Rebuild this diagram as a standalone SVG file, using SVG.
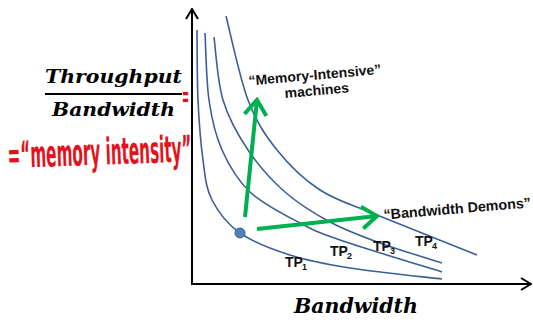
<svg xmlns="http://www.w3.org/2000/svg" width="533" height="322" viewBox="0 0 533 322">
  <style>
    .axis { stroke: #000; stroke-width: 2; fill: none; }
    .curve { stroke: #3a5f96; stroke-width: 1.6; fill: none; }
    .green { stroke: #00b050; stroke-width: 4; fill: none; stroke-linecap: butt; }
    .math { font-family: "DejaVu Serif", "Liberation Serif", serif; font-style: italic; font-weight: bold; fill: #000; }
    .lbl { font-family: "Liberation Sans", Arial, sans-serif; font-weight: bold; fill: #111; }
    .hand { font-family: "DejaVu Sans Condensed", "Liberation Sans", sans-serif; font-weight: bold; fill: #e3131e; }
  </style>
  <defs>
    <marker id="axisHead" viewBox="0 0 12 14" refX="11" refY="7" markerWidth="12" markerHeight="14" markerUnits="userSpaceOnUse" orient="auto">
      <polyline points="1,1 11,7 1,13" fill="none" stroke="#000" stroke-width="2"/>
    </marker>
    <marker id="greenHead" viewBox="0 0 20 26" refX="17" refY="13" markerWidth="20" markerHeight="26" markerUnits="userSpaceOnUse" orient="auto">
      <polyline points="2,2 17,13 2,24" fill="none" stroke="#00b050" stroke-width="4"/>
    </marker>
  </defs>

  <!-- left-hand label: the ratio and its handwritten name -->
  <g id="ratio">
    <text class="math" x="45" y="83" font-size="18" textLength="137" lengthAdjust="spacingAndGlyphs">Throughput</text>
    <line x1="45" y1="94" x2="182" y2="94" stroke="#000" stroke-width="2"/>
    <text class="math" x="52" y="116" font-size="18" textLength="123" lengthAdjust="spacingAndGlyphs">Bandwidth</text>
    <text class="hand" x="182" y="106" font-size="28" textLength="7" lengthAdjust="spacingAndGlyphs">=</text>
  </g>
  <g id="memory-intensity">
    <text class="hand" x="8" y="168" font-size="37" textLength="184" lengthAdjust="spacingAndGlyphs" transform="rotate(-2 8 168)">=“memory intensity”</text>
  </g>

  <!-- axes -->
  <g id="axes">
    <line class="axis" x1="192" y1="284" x2="192" y2="9" marker-end="url(#axisHead)"/>
    <line class="axis" x1="191" y1="284" x2="531" y2="284" marker-end="url(#axisHead)"/>
    <text class="math" x="294" y="313" font-size="21" textLength="124" lengthAdjust="spacingAndGlyphs">Bandwidth</text>
  </g>

  <!-- iso-throughput curves -->
  <g id="tp1">
    <path class="curve" d="M197,30 C197.2,41.7 197,78.3 198,100 C199,121.7 200.7,143.3 203,160 C205.3,176.7 205.8,187.8 212,200 C218.2,212.2 227,223.8 240,233 C253,242.2 271.7,249.2 290,255 C308.3,260.8 324.7,264 350,268 C375.3,272 426.7,277.2 442,279"/>
    <text class="lbl" x="285" y="267" font-size="14">TP</text>
    <text class="lbl" x="302" y="270" font-size="9">1</text>
  </g>
  <g id="tp2">
    <path class="curve" d="M205,33 C205.7,44.2 206.2,80.5 209,100 C211.8,119.5 215.2,134.7 222,150 C228.8,165.3 237,179.8 250,192 C263,204.2 285,215 300,223 C315,231 316.3,231.8 340,240 C363.7,248.2 425,266.7 442,272"/>
    <text class="lbl" x="330" y="256" font-size="14">TP</text>
    <text class="lbl" x="347" y="259" font-size="9">2</text>
  </g>
  <g id="tp3">
    <path class="curve" d="M214,37 C215.5,47.5 217.3,81.2 223,100 C228.7,118.8 237.7,134.7 248,150 C258.3,165.3 271.3,180 285,192 C298.7,204 314.2,213.5 330,222 C345.8,230.5 361.3,236.2 380,243 C398.7,249.8 431.7,259.7 442,263"/>
    <text class="lbl" x="373" y="251" font-size="14">TP</text>
    <text class="lbl" x="390" y="254" font-size="9">3</text>
  </g>
  <g id="tp4">
    <path class="curve" d="M226,16 C229.7,30 239.5,77.7 248,100 C256.5,122.3 265,135 277,150 C289,165 303.3,179.2 320,190 C336.7,200.8 350.8,204.2 377,215 C403.2,225.8 460.3,248.3 477,255"/>
    <text class="lbl" x="415" y="246" font-size="14">TP</text>
    <text class="lbl" x="432" y="249" font-size="9">4</text>
  </g>

  <!-- current operating point -->
  <g id="point">
    <circle cx="240" cy="233" r="5" fill="#4f81bd" stroke="#385d8a" stroke-width="1"/>
  </g>

  <!-- directions of improvement -->
  <g id="connectors">
    <line class="green" x1="245" y1="217" x2="257" y2="100" marker-end="url(#greenHead)"/>
    <line class="green" x1="257" y1="229" x2="377" y2="216" marker-end="url(#greenHead)"/>
  </g>

  <g id="memory-intensive">
    <text class="lbl" x="249" y="85.5" font-size="14" transform="rotate(-5 249 85.5)">“Memory-Intensive”</text>
    <text class="lbl" x="285" y="98" font-size="14" transform="rotate(-5 285 98)">machines</text>
  </g>
  <g id="bandwidth-demons">
    <text class="lbl" x="384" y="219.5" font-size="14.3" transform="rotate(-4.7 384 219.5)">“Bandwidth Demons”</text>
  </g>
</svg>
